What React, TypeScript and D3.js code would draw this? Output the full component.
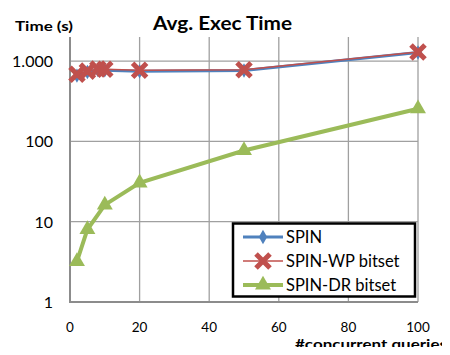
import { FC, useEffect, useRef } from "react";
import * as d3 from "d3";

const xValues = [2, 5, 8, 10, 20, 50, 100];
const spinValues = [660, 730, 775, 770, 745, 765, 1280];
const spinWpValues = [685, 750, 795, 790, 770, 780, 1300];

const drXValues = [2, 5, 10, 20, 50, 100];
const spinDrValues = [3.2, 8, 16.2, 30.5, 77, 255];

const xTicks = [0, 20, 40, 60, 80, 100];
const yTicks = [1, 10, 100, 1000];
const yTickLabels = ["1", "10", "100", "1.000"];

const seriesNames = ["SPIN", "SPIN-WP bitset", "SPIN-DR bitset"];
const seriesColors = ["#4f81bd", "#c0504d", "#9bbb59"];

const FONT = "Lato, 'Open Sans', sans-serif";

const App: FC = () => {
  const ref = useRef<HTMLDivElement>(null);

  useEffect(() => {
    const width = 450;
    const height = 355;
    const plot = { left: 70, right: 418, top: 37, bottom: 302 };

    d3.select(ref.current).selectAll("*").remove();
    const svg = d3
      .select(ref.current)
      .append("svg")
      .attr("width", width)
      .attr("height", height)
      .style("display", "block")
      .style("font-family", FONT);

    svg.append("rect").attr("width", width).attr("height", height).attr("fill", "#fff");

    // chart area border
    svg
      .append("path")
      .attr("d", `M7.5,${height} V7.5 H${width}`)
      .attr("fill", "none")
      .attr("stroke", "#c8c8c8")
      .attr("stroke-width", 1);

    const xScale = d3.scaleLinear().domain([0, 100]).range([plot.left, plot.right]);
    const yScale = d3
      .scaleLog()
      .domain([1, Math.pow(10, (plot.bottom - plot.top) / 80.3)])
      .range([plot.bottom, plot.top]);

    // grid
    const grid = svg.append("g").attr("stroke", "#a0a0a0").attr("stroke-width", 1.3);
    xTicks.slice(1).forEach((t) => {
      grid
        .append("line")
        .attr("x1", xScale(t))
        .attr("x2", xScale(t))
        .attr("y1", plot.top)
        .attr("y2", plot.bottom);
    });
    yTicks.slice(1).forEach((t) => {
      grid
        .append("line")
        .attr("x1", plot.left)
        .attr("x2", plot.right)
        .attr("y1", yScale(t))
        .attr("y2", yScale(t));
    });

    // axes
    svg
      .append("path")
      .attr("d", `M${plot.left},${plot.top} V${plot.bottom} H${plot.right}`)
      .attr("fill", "none")
      .attr("stroke", "#8c8c8c")
      .attr("stroke-width", 2);

    yTicks.forEach((t, i) => {
      svg
        .append("text")
        .attr("x", 53)
        .attr("y", yScale(t) + 6)
        .attr("text-anchor", "end")
        .attr("font-size", 16)
        .attr("fill", "#000")
        .text(yTickLabels[i]);
    });

    xTicks.forEach((t) => {
      svg
        .append("text")
        .attr("x", xScale(t))
        .attr("y", 332)
        .attr("text-anchor", "middle")
        .attr("font-size", 13.5)
        .attr("fill", "#000")
        .text(String(t));
    });

    // titles
    svg
      .append("text")
      .attr("x", 153)
      .attr("y", 30)
      .attr("font-size", 19)
      .attr("font-weight", "bold")
      .attr("textLength", 139)
      .attr("lengthAdjust", "spacingAndGlyphs")
      .text("Avg. Exec Time");

    svg
      .append("text")
      .attr("x", 15)
      .attr("y", 31)
      .attr("font-size", 14)
      .attr("font-weight", "bold")
      .attr("textLength", 58)
      .attr("lengthAdjust", "spacingAndGlyphs")
      .text("Time (s)");

    svg
      .append("text")
      .attr("x", 295)
      .attr("y", 349)
      .attr("font-size", 13.5)
      .attr("font-weight", "bold")
      .attr("textLength", 152)
      .attr("lengthAdjust", "spacingAndGlyphs")
      .text("#concurrent queries");

    const line = d3
      .line<[number, number]>()
      .x((d) => xScale(d[0]))
      .y((d) => yScale(d[1]));

    const spinPts = xValues.map((x, i) => [x, spinValues[i]] as [number, number]);
    const wpPts = xValues.map((x, i) => [x, spinWpValues[i]] as [number, number]);
    const drPts = drXValues.map((x, i) => [x, spinDrValues[i]] as [number, number]);

    const diamond = d3.symbol(d3.symbolDiamond, 60);
    const triangle = d3.symbol(d3.symbolTriangle, 110);

    const drawX = (g: d3.Selection<SVGGElement, unknown, null, undefined>, cx: number, cy: number, s: number, w: number) => {
      g.append("path")
        .attr("d", `M${cx - s},${cy - s} L${cx + s},${cy + s} M${cx - s},${cy + s} L${cx + s},${cy - s}`)
        .attr("stroke", seriesColors[1])
        .attr("stroke-width", w)
        .attr("fill", "none");
    };

    // SPIN
    svg
      .append("path")
      .datum(spinPts)
      .attr("d", line)
      .attr("fill", "none")
      .attr("stroke", seriesColors[0])
      .attr("stroke-width", 3);
    svg
      .append("g")
      .selectAll("path")
      .data(spinPts)
      .enter()
      .append("path")
      .attr("d", diamond)
      .attr("transform", (d) => `translate(${xScale(d[0])},${yScale(d[1])})`)
      .attr("fill", seriesColors[0]);

    // SPIN-WP
    svg
      .append("path")
      .datum(wpPts)
      .attr("d", line)
      .attr("fill", "none")
      .attr("stroke", seriesColors[1])
      .attr("stroke-width", 1.5);
    const wpG = svg.append("g");
    wpPts.forEach((d) => drawX(wpG, xScale(d[0]), yScale(d[1]), 7, 5));

    // SPIN-DR
    svg
      .append("path")
      .datum(drPts)
      .attr("d", line)
      .attr("fill", "none")
      .attr("stroke", seriesColors[2])
      .attr("stroke-width", 4);
    svg
      .append("g")
      .selectAll("path")
      .data(drPts)
      .enter()
      .append("path")
      .attr("d", triangle)
      .attr("transform", (d) => `translate(${xScale(d[0])},${yScale(d[1])})`)
      .attr("fill", seriesColors[2]);

    // legend
    const legend = svg.append("g");
    legend
      .append("rect")
      .attr("x", 233)
      .attr("y", 223.5)
      .attr("width", 182)
      .attr("height", 73)
      .attr("fill", "#fff")
      .attr("stroke", "#000")
      .attr("stroke-width", 2.5);

    const rowY = [237, 261, 285];
    seriesNames.forEach((name, i) => {
      const y = rowY[i];
      legend
        .append("line")
        .attr("x1", 243)
        .attr("x2", 283)
        .attr("y1", y)
        .attr("y2", y)
        .attr("stroke", seriesColors[i])
        .attr("stroke-width", i === 1 ? 1.5 : i === 0 ? 3 : 4);
      if (i === 0) {
        legend
          .append("path")
          .attr("d", diamond)
          .attr("transform", `translate(263,${y})`)
          .attr("fill", seriesColors[0]);
      } else if (i === 1) {
        drawX(legend, 263, y, 7, 5);
      } else {
        legend
          .append("path")
          .attr("d", triangle)
          .attr("transform", `translate(263,${y})`)
          .attr("fill", seriesColors[2]);
      }
      legend
        .append("text")
        .attr("x", 286)
        .attr("y", y + 6)
        .attr("font-size", 16.5)
        .attr("fill", "#000")
        .text(name);
    });
  }, []);

  return <div ref={ref} style={{ margin: -8 }}></div>;
};

export default App;
